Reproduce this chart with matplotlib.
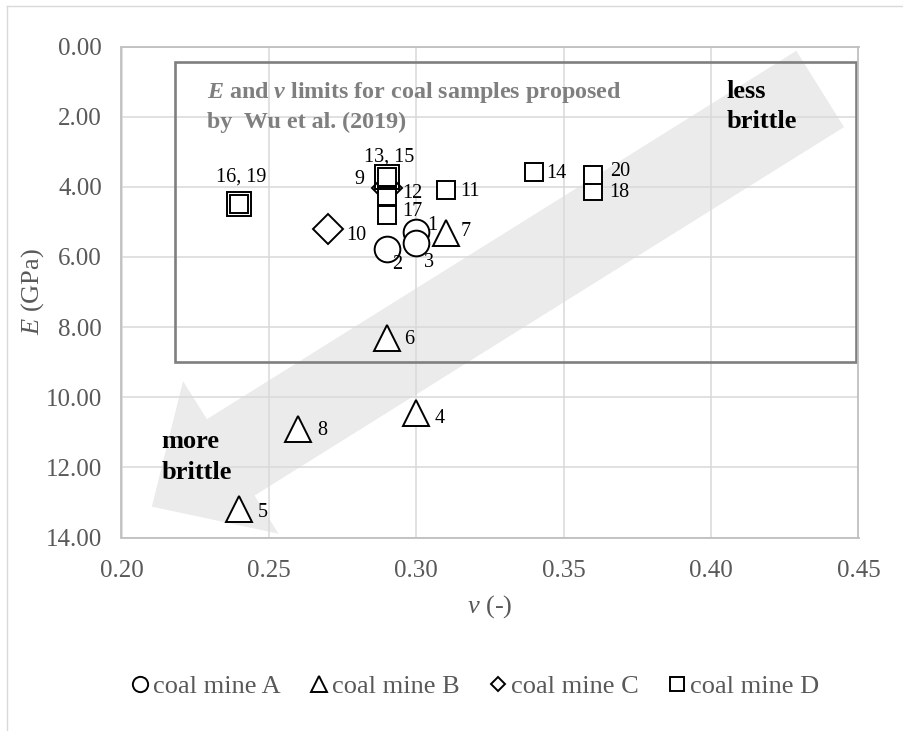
import numpy as np
import matplotlib
matplotlib.use("Agg")
import matplotlib.pyplot as plt
from matplotlib.patches import Rectangle, Polygon
from matplotlib.lines import Line2D
from matplotlib.transforms import IdentityTransform

plt.rcParams["font.family"] = ["Liberation Serif", "DejaVu Serif"]
plt.rcParams["mathtext.fontset"] = "custom"
plt.rcParams["mathtext.rm"] = "Liberation Serif"
plt.rcParams["mathtext.it"] = "Liberation Serif:italic"
plt.rcParams["mathtext.bf"] = "Liberation Serif:bold"
plt.rcParams["mathtext.bfit"] = "Liberation Serif:bold:italic"

# sample id, Poisson's ratio v (-), Young's modulus E (GPa)
mine_a_ids = [1, 2, 3]
mine_a_v = [0.30, 0.29, 0.30]
mine_a_E = [5.28, 5.76, 5.61]

mine_b_ids = [4, 5, 6, 7, 8]
mine_b_v = [0.30, 0.24, 0.29, 0.31, 0.26]
mine_b_E = [10.45, 13.20, 8.32, 5.33, 10.92]

mine_c_ids = [9, 10]
mine_c_v = [0.29, 0.27]
mine_c_E = [4.03, 5.19]

mine_d_ids = [11, 12, 13, 14, 15, 16, 17, 18, 19, 20]
mine_d_v = [0.31, 0.29, 0.29, 0.34, 0.29, 0.24, 0.29, 0.36, 0.24, 0.36]
mine_d_E = [4.08, 4.25, 3.72, 3.59, 3.72, 4.48, 4.80, 4.12, 4.48, 3.65]

series_names = ["coal mine A", "coal mine B", "coal mine C", "coal mine D"]

# E and v limits for coal (Wu et al. 2019)
wu_v = (0.218, 0.449)
wu_E = (0.45, 9.0)

x_ticks = [0.20, 0.25, 0.30, 0.35, 0.40, 0.45]
y_ticks = [0, 2, 4, 6, 8, 10, 12, 14]

# where each sample number sits relative to its marker (pixels, right/up)
label_offsets = {
    1: (16, 6), 2: (10, -16), 3: (13, -19), 4: (23, -6), 5: (23, -3),
    6: (22, -1), 7: (20, 2), 8: (24, -1), 9: (-27, 8), 10: (28, -7),
    11: (24, -2), 12: (26, 2), 13: (2, 20), 14: (22, -1), 16: (2, 27),
    17: (26, 3), 18: (26, -2), 20: (27, 3),
}

GRAY_TXT = "#595959"

fig = plt.figure(figsize=(9.04, 7.31), dpi=100)
ax = fig.add_axes([121.5 / 904, 1 - 537.5 / 731, 737 / 904, 491 / 731])

# chart area outline (top and left edges fall inside the image)
fig.add_artist(Line2D([7 / 904, 1], [1 - 6 / 731, 1 - 6 / 731],
                      color="#d9d9d9", lw=1, transform=fig.transFigure))
fig.add_artist(Line2D([7 / 904, 7 / 904], [0, 1 - 6 / 731],
                      color="#d9d9d9", lw=1, transform=fig.transFigure))

ax.set_xlim(0.20, 0.45)
ax.set_ylim(14, 0)
ax.set_xticks(x_ticks)
ax.set_yticks(y_ticks)
ax.set_xticklabels([f"{t:.2f}" for t in x_ticks])
ax.set_yticklabels([f"{t:.2f}" for t in y_ticks])
ax.tick_params(length=0, labelsize=18, labelcolor=GRAY_TXT)
ax.tick_params(axis="x", pad=16)
ax.tick_params(axis="y", pad=14)
ax.set_axisbelow(True)
ax.grid(True, color="#d9d9d9", lw=1.1)
for s in ax.spines.values():
    s.set_color("#bfbfbf")
    s.set_linewidth(1.3)

ax.set_xlabel("$v$ (-)", fontsize=19, color=GRAY_TXT, labelpad=8)
ax.set_ylabel("$E$ (GPa)", fontsize=19, color=GRAY_TXT, labelpad=0)

# big shaded arrow from "less brittle" to "more brittle"
arrow_tail = (0.4370, 1.21)
arrow_tip = (0.2103, 13.12)
tail_px = ax.transData.transform(arrow_tail)
tip_px = ax.transData.transform(arrow_tip)
u = (tail_px - tip_px) / np.linalg.norm(tail_px - tip_px)
p = np.array([-u[1], u[0]])
shaft_w, head_w, head_l = 45, 90, 93
base = tip_px + u * head_l
pts = [tip_px, base + p * head_w, base + p * shaft_w, tail_px + p * shaft_w,
       tail_px - p * shaft_w, base - p * shaft_w, base - p * head_w]
ax.add_patch(Polygon(pts, closed=True, transform=IdentityTransform(),
                     facecolor="#ebebeb", edgecolor="none", zorder=0.3,
                     clip_on=False))

# Wu et al. box
ax.add_patch(Rectangle((wu_v[0], wu_E[0]), wu_v[1] - wu_v[0], wu_E[1] - wu_E[0],
                       fill=False, edgecolor="#7f7f7f", lw=1.9, zorder=1.5))
ax.text(0.2289, 1.47, r"$\mathbfit{E}$ and $\mathbfit{v}$ limits for coal samples proposed",
        fontsize=17.3, fontweight="bold", color="#7f7f7f", va="baseline")
ax.text(0.2289, 2.33, "by  Wu et al. (2019)",
        fontsize=17.3, fontweight="bold", color="#7f7f7f", va="baseline")

ax.text(0.4052, 1.476, "less", fontsize=19, fontweight="bold", va="baseline")
ax.text(0.4052, 2.33, "brittle", fontsize=19, fontweight="bold", va="baseline")
ax.text(0.2136, 11.45, "more", fontsize=19, fontweight="bold", va="baseline")
ax.text(0.2136, 12.33, "brittle", fontsize=19, fontweight="bold", va="baseline")

series = [
    (mine_a_ids, mine_a_v, mine_a_E, "o", 18.5),
    (mine_b_ids, mine_b_v, mine_b_E, "^", 18.5),
    (mine_c_ids, mine_c_v, mine_c_E, "D", 15.5),
    (mine_d_ids, mine_d_v, mine_d_E, "s", 13.5),
]

for ids, vs, Es, marker, size in series:
    seen = {}
    for sid, v, E in zip(ids, vs, Es):
        key = (v, E)
        if key in seen:
            # repeated sample: outline drawn around the earlier one
            ax.plot(v, E, ls="none", marker=marker, ms=size + 3.5, mfc="none",
                    mec="black", mew=1.4, zorder=3)
            seen[key].append(sid)
        else:
            ax.plot(v, E, ls="none", marker=marker, ms=size, mfc="white",
                    mec="black", mew=1.4, zorder=3)
            seen[key] = [sid]
    for (v, E), group in seen.items():
        dx, dy = label_offsets[group[0]]
        ax.annotate(", ".join(str(g) for g in group), (v, E),
                    xytext=(dx, dy), textcoords="offset pixels",
                    ha="center", va="center", fontsize=14.5, zorder=4)

handles = [Line2D([], [], ls="none", marker=m, ms=s, mfc="white", mec="black", mew=1.4)
           for m, s in zip(["o", "^", "D", "s"], [11, 12, 7.5, 10.5])]
fig.legend(handles, series_names, loc="center", bbox_to_anchor=(475 / 904, 1 - 686 / 731),
           ncol=4, frameon=False, fontsize=19, labelcolor=GRAY_TXT,
           handlelength=0.7, handletextpad=0.15, columnspacing=1.1)

fig.savefig("out.png", dpi=100)
